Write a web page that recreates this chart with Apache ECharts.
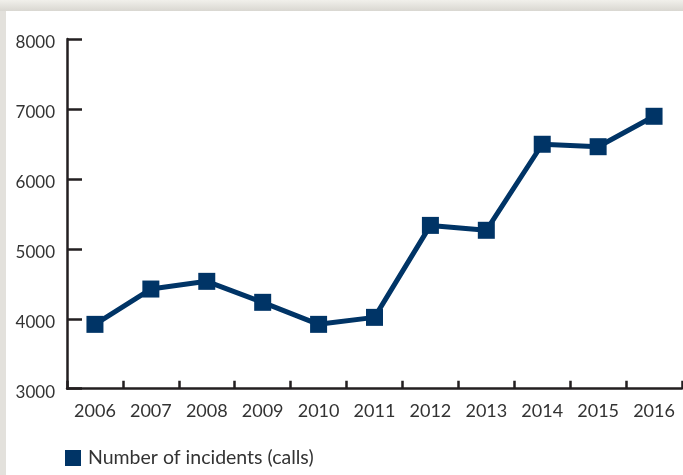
<!DOCTYPE html>
<html>
<head>
<meta charset="utf-8">
<script src="https://cdn.jsdelivr.net/npm/echarts@6/dist/echarts.min.js"></script>
<style>
html,body{margin:0;padding:0;background:#e6e4df;}
#chart{width:683px;height:475px;}
</style>
</head>
<body>
<div id="chart"></div>
<script>
const years = ['2006','2007','2008','2009','2010','2011','2012','2013','2014','2015','2016'];
const incidents = [3920, 4425, 4535, 4235, 3920, 4020, 5335, 5265, 6495, 6460, 6895];
const seriesName = 'Number of incidents (calls)';

const chart = echarts.init(document.getElementById('chart'));
const FONT = 'Lato';
chart.setOption({
  backgroundColor: 'transparent',
  animation: false,
  graphic: [
    {type:'rect', z:-10, shape:{x:0,y:0,width:683,height:11}, style:{fill:{type:'linear',x:0,y:0,x2:0,y2:1,colorStops:[{offset:0,color:'#f1f0eb'},{offset:1,color:'#d9d7d1'}]}}},
    {type:'rect', z:-10, shape:{x:0,y:11,width:6,height:464}, style:{fill:'#e3e1dc'}},
    {type:'rect', z:-9, shape:{x:6,y:11,width:677,height:464}, style:{fill:'#ffffff'}}
  ],
  grid: {left: 67, right: 1, top: 39, bottom: 86.3, containLabel: false},
  legend: {
    left: 60, top: 443,
    icon: 'rect', itemWidth: 16, itemHeight: 16,
    data: [{name: seriesName, itemStyle:{color:'#003466'}}],
    textStyle: {fontFamily: FONT, fontSize: 19.5, color: '#333333', padding:[0,0,0,2]}
  },
  xAxis: {
    type: 'category',
    data: years,
    boundaryGap: true,
    axisLine: {lineStyle: {color: '#231f20', width: 2.5}},
    axisTick: {show: true, inside: false, length: -8, lineStyle: {color: '#231f20', width: 2.5}},
    axisLabel: {fontFamily: FONT, fontSize: 18, color: '#333333', margin: 13},
    splitLine: {show: false}
  },
  yAxis: {
    type: 'value',
    min: 3000, max: 8000, interval: 1000,
    axisLine: {show: true, lineStyle: {color: '#231f20', width: 2.5}},
    axisTick: {show: true, inside: false, length: -15, lineStyle: {color: '#231f20', width: 2.5}},
    axisLabel: {fontFamily: FONT, fontSize: 17, color: '#333333', margin: 12,
      verticalAlign: 'top', lineHeight: 8,
      formatter: function (v) { return String(v); }},
    splitLine: {show: false}
  },
  series: [{
    name: seriesName,
    type: 'line',
    data: incidents,
    symbol: 'rect',
    symbolSize: 17,
    lineStyle: {color: '#003466', width: 5},
    itemStyle: {color: '#003466'}
  }]
});
</script>
</body>
</html>
